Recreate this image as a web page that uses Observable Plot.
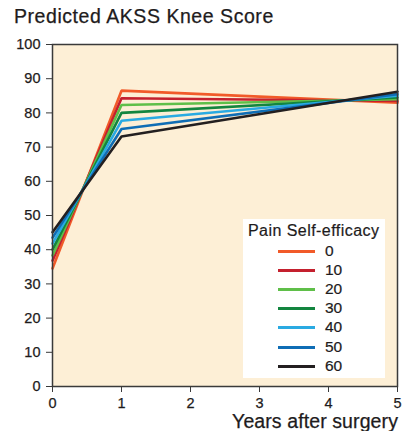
<!DOCTYPE html>
<html><head><meta charset="utf-8">
<script src="https://cdn.jsdelivr.net/npm/d3@7"></script>
<script src="https://cdn.jsdelivr.net/npm/@observablehq/plot@0.6"></script>
<style>
html,body{margin:0;padding:0;background:#fff;}
body{font-family:"Liberation Sans",Arial,sans-serif;color:#1e1b1c;}
#wrap{position:relative;width:402px;height:431px;overflow:hidden;}
#title{position:absolute;left:14px;top:5px;font-size:19.5px;line-height:23px;letter-spacing:0.55px;white-space:nowrap;-webkit-text-stroke:0.25px #1e1b1c;}
#chart{position:absolute;left:0;top:36px;}
#chart svg text{stroke:#1e1b1c;stroke-width:0.25px;}
#xlabel{position:absolute;right:4px;top:410px;font-size:19.5px;line-height:23px;letter-spacing:0.1px;white-space:nowrap;-webkit-text-stroke:0.25px #1e1b1c;}
#legend{position:absolute;left:243px;top:219px;width:142px;height:159px;background:#fff;}
#legend .lt{position:absolute;left:5px;top:3px;font-size:16px;line-height:18px;letter-spacing:0.45px;white-space:nowrap;-webkit-text-stroke:0.2px #1e1b1c;}
#legend .row{position:absolute;left:0;height:18px;width:142px;}
#legend .sw{position:absolute;left:35px;top:8px;width:37px;height:3px;}
#legend .lab{position:absolute;left:82px;top:0;font-size:15.5px;line-height:18px;-webkit-text-stroke:0.2px #1e1b1c;}
</style></head>
<body>
<div id="wrap">
  <div id="title">Predicted AKSS Knee Score</div>
  <div id="chart"></div>
  <div id="xlabel">Years after surgery</div>
  <div id="legend"></div>
</div>
<script>
const years = [0, 1, 5];
const efficacy = [0, 10, 20, 30, 40, 50, 60];
const colors = ["#f15a29", "#c4202e", "#5fbf49", "#13853f", "#2aaae2", "#0f6db5", "#231f20"];
const s0  = [34.5, 86.5, 83.0];
const s10 = [36.8, 84.3, 83.5];
const s20 = [38.3, 82.3, 84.0];
const s30 = [40.0, 80.0, 84.5];
const s40 = [41.8, 77.7, 85.0];
const s50 = [43.5, 75.3, 85.5];
const s60 = [45.1, 73.1, 86.2];
const xTicks = [0, 1, 2, 3, 4, 5];
const yTicks = [0, 10, 20, 30, 40, 50, 60, 70, 80, 90, 100];
const legendTitle = "Pain Self-efficacy";

const series = [s0, s10, s20, s30, s40, s50, s60];
const data = [];
series.forEach((s, i) => s.forEach((v, j) => data.push({eff: efficacy[i], year: years[j], score: v})));

const chart = Plot.plot({
  width: 402, height: 395,
  marginTop: 8, marginLeft: 52, marginRight: 5, marginBottom: 45,
  style: {fontFamily: '"Liberation Sans", Arial, sans-serif', fontSize: "14.5px", color: "#1e1b1c", background: "transparent"},
  x: {domain: [0, 5]},
  y: {domain: [0, 100]},
  color: {domain: efficacy, range: colors},
  marks: [
    Plot.frame({fill: "#fdefd6", stroke: null}),
    Plot.line(data, {x: "year", y: "score", z: "eff", stroke: "eff", strokeWidth: 2.6, strokeLinejoin: "miter"}),
    Plot.frame({stroke: "#3a3a3a", strokeWidth: 1.5}),
    Plot.axisY({ticks: yTicks, tickSize: 6, tickPadding: 6, label: null, stroke: "#3a3a3a"}),
    Plot.axisX({ticks: xTicks, tickFormat: d3.format("d"), tickSize: 6, tickPadding: 5, label: null, stroke: "#3a3a3a"})
  ]
});
document.getElementById("chart").appendChild(chart);

const leg = document.getElementById("legend");
const t = document.createElement("div"); t.className = "lt"; t.textContent = legendTitle; leg.appendChild(t);
efficacy.forEach((e, i) => {
  const r = document.createElement("div"); r.className = "row"; r.style.top = (22.5 + i * 19.2) + "px";
  const sw = document.createElement("div"); sw.className = "sw"; sw.style.background = colors[i];
  const lb = document.createElement("div"); lb.className = "lab"; lb.textContent = String(e);
  r.appendChild(sw); r.appendChild(lb); leg.appendChild(r);
});
</script>
</body></html>
